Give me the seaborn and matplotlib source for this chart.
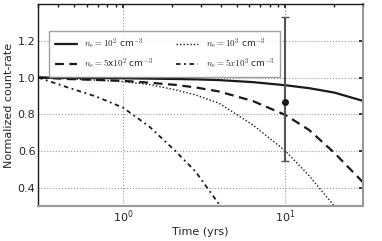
import numpy as np
import pandas as pd
import seaborn as sns
import matplotlib
matplotlib.use('Agg')
import matplotlib.pyplot as plt

# values
time_yrs = [0.3, 0.46, 0.68, 1.0, 1.45, 2.1, 2.8, 3.9, 6.3, 10, 14, 20, 30]
ne_1e2 = [1.0, 0.998, 0.997, 0.996, 0.994, 0.992, 0.99, 0.986, 0.975, 0.958, 0.942, 0.918, 0.873]
ne_5e2 = [1.0, 0.992, 0.987, 0.982, 0.972, 0.96, 0.946, 0.924, 0.872, 0.796, 0.714, 0.59, 0.43]
ne_1e3 = [1.0, 0.993, 0.986, 0.978, 0.962, 0.933, 0.905, 0.86, 0.742, 0.6, 0.465, 0.3, 0.1]
ne_5e3 = [1.0, 0.945, 0.897, 0.836, 0.733, 0.6, 0.487, 0.31, -0.1, np.nan, np.nan, np.nan, np.nan]

labels = [r'$n_e=10^2$ cm$^{-3}$', r'$n_e=5$x$10^2$ cm$^{-3}$',
          r'$n_e=10^3$ cm$^{-3}$', r'$n_e=5x10^3$ cm$^{-3}$']

obs_time = 10
obs_rate = 0.869
obs_err_lo = 0.322
obs_err_hi = 0.462

sns.set_theme(style='white')
plt.rcParams['font.family'] = ['DejaVu Sans']
plt.rcParams['mathtext.fontset'] = 'cm'

df = pd.DataFrame({'time': time_yrs * 4,
                   'rate': ne_1e2 + ne_5e2 + ne_1e3 + ne_5e3,
                   'model': [labels[0]] * len(time_yrs) + [labels[1]] * len(time_yrs)
                            + [labels[2]] * len(time_yrs) + [labels[3]] * len(time_yrs)})

fig = plt.figure(figsize=(3.82, 2.41), dpi=100)
ax = fig.add_axes([0.100, 0.145, 0.850, 0.838])

styles = ['-', (0, (4, 2.5)), (0, (1, 1.5)), (0, (2.5, 2, 1, 2))]
widths = [1.6, 1.6, 1.0, 1.3]
for lab, ls, lw in zip(labels, styles, widths):
    sub = df[df['model'] == lab]
    sns.lineplot(data=sub, x='time', y='rate', ax=ax, color='k', linestyle=ls,
                 linewidth=lw, label=lab)

ax.errorbar([obs_time], [obs_rate], yerr=[[obs_err_lo], [obs_err_hi]], fmt='o',
            color='k', ms=4, ecolor='#555555', elinewidth=1.5, capsize=3, capthick=1)

ax.set_xscale('log')
ax.set_xlim(0.3, 30)
ax.set_ylim(0.3, 1.4)
ax.set_yticks([0.4, 0.6, 0.8, 1.0, 1.2])
ax.grid(True, which='major', color='#999999', linestyle=':', linewidth=0.8)
ax.tick_params(which='both', direction='in', top=True, right=True, labelsize=8,
               length=3, color='k', pad=2)
ax.tick_params(which='minor', length=2)
ax.set_xlabel('Time (yrs)', fontsize=8, labelpad=1)
ax.set_ylabel('Normalized count-rate', fontsize=8, labelpad=3)

for side in ['left', 'top']:
    ax.spines[side].set_color('k')
    ax.spines[side].set_linewidth(1.0)
for side in ['bottom', 'right']:
    ax.spines[side].set_color('#999999')
    ax.spines[side].set_linewidth(1.5)

leg = ax.legend(loc='upper left', bbox_to_anchor=(0.02, 0.89), ncol=2, fontsize=6.5,
                frameon=True, fancybox=False, handlelength=2.5, columnspacing=2.5,
                borderpad=0.6, labelspacing=0.6)
leg.get_frame().set_edgecolor('#888888')
leg.get_frame().set_linewidth(1.0)

fig.savefig('out.png', dpi=100)
